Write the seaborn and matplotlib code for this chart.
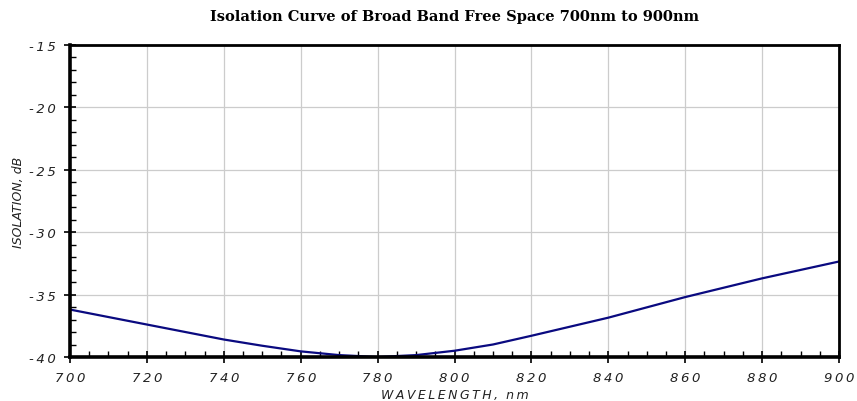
import pandas as pd
import seaborn as sns
import matplotlib.pyplot as plt
from matplotlib.ticker import MultipleLocator

wavelength = [700, 720, 740, 750, 760, 770, 780, 790, 800, 810, 820, 840, 860, 880, 900]
isolation = [-36.2, -37.4, -38.6, -39.1, -39.55, -39.85, -40.0, -39.85, -39.5, -39.0, -38.3,
             -36.85, -35.2, -33.7, -32.35]
xticks = list(range(700, 901, 20))
yticks = list(range(-40, -14, 5))

df = pd.DataFrame({"wavelength": wavelength, "isolation": isolation})

sns.set_style("white")
plt.rcParams['font.family'] = ['DejaVu Sans']
plt.rcParams['axes.unicode_minus'] = False

def spaced(s):
    return "\u2009".join(s)

fig = plt.figure(figsize=(8.57, 4.02), dpi=100)
ax = fig.add_axes([0.0817, 0.1095, 0.8973, 0.7761])

sns.lineplot(data=df, x="wavelength", y="isolation", ax=ax, color="#0a0a80", linewidth=1.6)

ax.set_xlim(700, 900)
ax.set_ylim(-40, -15)
ax.set_xticks(xticks)
ax.set_xticklabels([spaced(str(v)) for v in xticks])
ax.set_yticks(yticks)
ax.set_yticklabels([spaced(str(v)) for v in yticks])
ax.xaxis.set_minor_locator(MultipleLocator(5))
ax.yaxis.set_minor_locator(MultipleLocator(1))
ax.grid(True, which="major", color="#cccccc", linewidth=0.9)
ax.set_axisbelow(True)

for s in ax.spines.values():
    s.set_visible(True)
    s.set_color("black")
    s.set_linewidth(2.0)
ax.spines["left"].set_linewidth(2.6)
ax.spines["bottom"].set_linewidth(2.6)

ax.tick_params(axis="x", which="both", bottom=True, top=False)
ax.tick_params(axis="y", which="both", left=True, right=False)
ax.tick_params(which="major", direction="inout", length=8, width=1.2, colors="black",
               labelsize=9.5, pad=6, labelcolor="#222222")
ax.tick_params(which="minor", direction="in", length=4, width=1.0, colors="black")

for lab in ax.get_xticklabels() + ax.get_yticklabels():
    lab.set_fontstyle("italic")

ax.set_xlabel(spaced("WAVELENGTH,") + "  " + spaced("nm"), fontsize=9, fontstyle="italic",
              labelpad=3, color="#222222")
ax.set_ylabel("ISOLATION, dB", fontsize=9, fontstyle="italic", labelpad=3, color="#222222")
ax.set_title("Isolation Curve of Broad Band Free Space 700nm to 900nm",
             fontsize=10.5, fontweight="bold", family="DejaVu Serif", pad=18, color="black")

plt.savefig("out.png", dpi=100)
